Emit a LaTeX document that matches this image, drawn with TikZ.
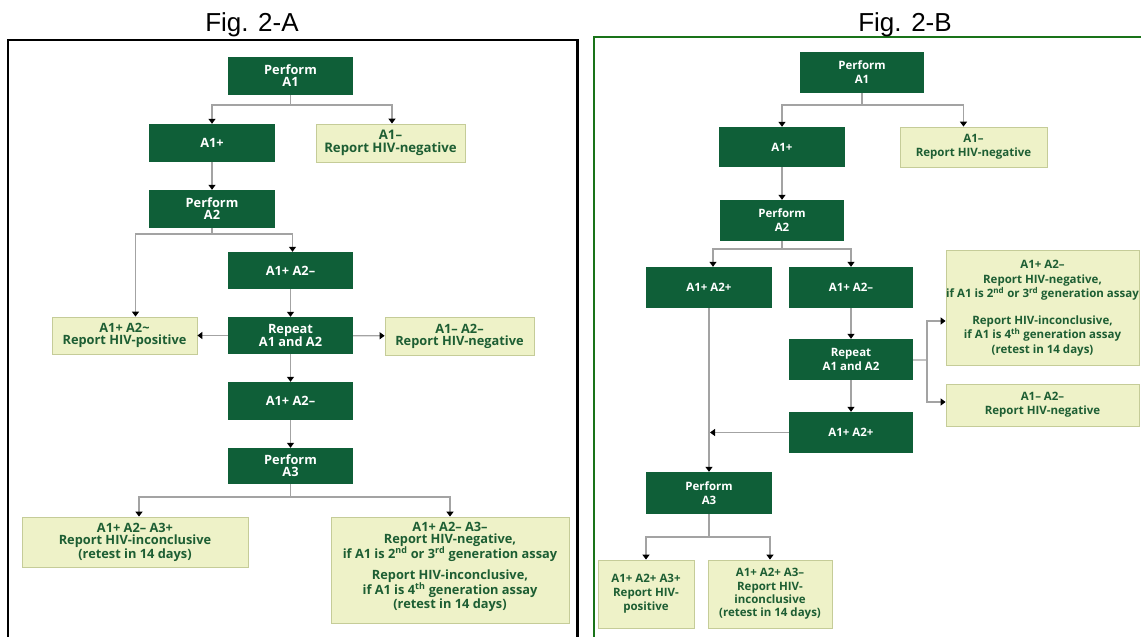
\documentclass[tikz,border=0pt]{standalone}
\usepackage{fontspec}
\setmainfont{Open Sans}
\newfontfamily\titlefont{Liberation Sans}
\usetikzlibrary{arrows.meta,calc}
\definecolor{dgreen}{RGB}{15,95,56}
\definecolor{lfill}{RGB}{238,242,200}
\definecolor{lborder}{RGB}{197,204,152}
\definecolor{ltext}{RGB}{29,94,51}
\definecolor{lineg}{RGB}{163,163,163}
\definecolor{frameg}{RGB}{25,115,25}
\tikzset{
  sz/.style 2 args={minimum width=#1pt, minimum height=#2pt},
  darkbox/.style={fill=dgreen, text=white, align=center, inner sep=0pt},
  lightbox/.style={fill=lfill, draw=lborder, line width=0.8pt, text=ltext, align=center, inner sep=0pt},
  lighttext/.style={text=ltext, align=center, inner sep=0pt},
  fa/.style={font=\fontsize{12.8}{12}\selectfont\bfseries},
  fb/.style={font=\fontsize{11.5}{14}\selectfont\bfseries},
  fbig/.style={font=\fontsize{11.5}{14.5}\selectfont\bfseries},
  figtitle/.style={font=\titlefont\fontsize{26}{30}\selectfont, anchor=base, inner sep=0pt},
  conn/.style={draw=lineg, line width=1.3pt},
  arr/.style={conn, -{Triangle[width=7pt,length=5pt,color=black]}},
}
\begin{document}
\begin{tikzpicture}[x=1pt,y=-1pt]
\useasboundingbox (0,0) rectangle (1141,637);
% frames
\draw[line width=1.2pt] (8,640) -- (8,40);
\draw[line width=2pt] (7.4,40) -- (578,40);
\draw[line width=3pt] (577,39) -- (577,640);
\draw[frameg, line width=2pt] (594,640) -- (594,37) -- (1145,37);
% titles
\node[figtitle] (tA) at (252,31) {Fig. 2-A};
\node[figtitle] (tB) at (905,31) {Fig. 2-B};

% ---------- Panel A ----------
\node[darkbox, fa, sz={125}{38}] (pa1) at (290.5,76) {Perform\\A1};
\node[darkbox, fa, sz={126}{38}] (a1p) at (212,143) {A1+};
\node[lightbox, font=\fontsize{13.2}{12.5}\selectfont\bfseries, sz={149}{38}] (a1n) at (390.5,143) {A1--\\Report HIV-negative};
\node[darkbox, fa, sz={126}{38}] (pa2) at (212,209) {Perform\\A2};
\node[darkbox, fa, sz={125}{37}] (ra) at (290.5,270.5) {A1+ A2--};
\node[darkbox, fa, sz={125}{37}] (rep) at (290.5,335.5) {Repeat\\A1 and A2};
\node[lightbox, fa, sz={145}{37}] (pos) at (124.5,335.5) {A1+ A2\textasciitilde\\Report HIV-positive};
\node[lightbox, fa, sz={149}{38}] (nna) at (459.5,336) {A1-- A2--\\Report HIV-negative};
\node[darkbox, fa, sz={125}{38}] (rb) at (290.5,401) {A1+ A2--};
\node[darkbox, fa, sz={125}{36}] (pa3) at (290.5,466) {Perform\\A3};
\node[lightbox, fa, sz={226}{50}] (inc) at (135,542) {A1+ A2-- A3+\\Report HIV-inconclusive\\(retest in 14 days)};
\node[lightbox, sz={238}{106}] (neg) at (450,570) {};
\node[lighttext, fa, anchor=north] (negtxt) at ([yshift=-5pt]neg.north) {A1+ A2-- A3--\\Report HIV-negative,\\if A1 is 2\textsuperscript{nd} or 3\textsuperscript{rd} generation assay\\[7pt]Report HIV-inconclusive,\\if A1 is 4\textsuperscript{th} generation assay\\(retest in 14 days)};

\coordinate (jA1) at (290.5,105);
\coordinate (jA2) at (212,234);
\coordinate (jA3) at (290.5,497);
\draw[conn] (pa1) -- (jA1);
\draw[arr] (jA1) -| (a1p);
\draw[arr] (jA1) -| ([xshift=1.5pt]a1n.north);
\draw[arr] (a1p) -- (pa2);
\draw[conn] (pa2) -- (jA2);
\draw[arr] (jA2) -| ([xshift=11pt]pos.north);
\draw[arr] (jA2) -| ([xshift=2pt]ra.north);
\draw[arr] (ra) -- (rep);
\draw[arr] (rep) -- (pos);
\draw[arr] (rep) -- (nna);
\draw[arr] (rep) -- (rb);
\draw[arr] (rb) -- (pa3);
\draw[conn] (pa3) -- (jA3);
\draw[arr] (jA3) -| ([xshift=4pt]inc.north);
\draw[arr] (jA3) -| (neg);

% ---------- Panel B ----------
\node[darkbox, fb, sz={124}{41}] (pb1) at (862,72.5) {Perform\\A1};
\node[darkbox, fb, sz={126}{40}] (b1p) at (782,147) {A1+};
\node[lightbox, fb, sz={147}{40}] (b1n) at (973.5,147) {A1--\\Report HIV-negative};
\node[darkbox, fb, sz={124}{41}] (pb2) at (782,220.5) {Perform\\A2};
\node[darkbox, fb, sz={126}{41}] (bpp) at (709,287.5) {A1+ A2+};
\node[darkbox, fb, sz={124}{41}] (bpn) at (851,287.5) {A1+ A2--};
\node[darkbox, fb, sz={124}{41}] (brep) at (851,359.5) {Repeat\\A1 and A2};
\node[lightbox, fbig, sz={193}{115}] (bbig) at (1042.5,308) {A1+ A2--\\Report HIV-negative,\\if A1 is 2\textsuperscript{nd} or 3\textsuperscript{rd} generation assay\\[12pt]Report HIV-inconclusive,\\if A1 is 4\textsuperscript{th} generation assay\\(retest in 14 days)};
\node[lightbox, fb, sz={193}{42}] (bnn) at (1042.5,405) {A1-- A2--\\Report HIV-negative};
\node[darkbox, fb, sz={124}{41}] (bpp2) at (851,432.5) {A1+ A2+};
\node[darkbox, fb, sz={126}{42}] (pb3) at (709,493) {Perform\\A3};
\node[lightbox, fb, sz={96}{68}] (bpos) at (646,594) {A1+ A2+ A3+\\Report HIV-\\positive};
\node[lightbox, font=\fontsize{11.5}{13.3}\selectfont\bfseries, sz={124}{68}] (binc) at (770,594) {A1+ A2+ A3--\\Report HIV-\\inconclusive\\(retest in 14 days)};

\coordinate (jB1) at (862,105);
\coordinate (jB2) at (782,249);
\coordinate (jB3) at (927,360);
\coordinate (jB4) at (710,432.5);
\coordinate (jB5) at (709,537);
\draw[conn] (pb1) -- (jB1);
\draw[arr] (jB1) -| (b1p);
\draw[arr] (jB1) -| ([xshift=-10pt]b1n.north);
\draw[arr] (b1p) -- (pb2);
\draw[conn] (pb2) -- (jB2);
\draw[arr] (jB2) -| ([xshift=4pt]bpp.north);
\draw[arr] (jB2) -| (bpn);
\draw[arr] (bpn) -- (brep);
\draw[arr] (brep) -- (bpp2);
\draw[conn] (brep) -- (jB3);
\draw[arr] (jB3) |- ([yshift=-13pt]bbig.west);
\draw[arr] (jB3) |- ([yshift=3pt]bnn.west);
\draw[arr] (bpp2) -- (jB4);
\draw[arr] (bpp) -- (pb3);
\draw[conn] (pb3) -- (jB5);
\draw[arr] (jB5) -| (bpos);
\draw[arr] (jB5) -| (binc);
\end{tikzpicture}
\end{document}
